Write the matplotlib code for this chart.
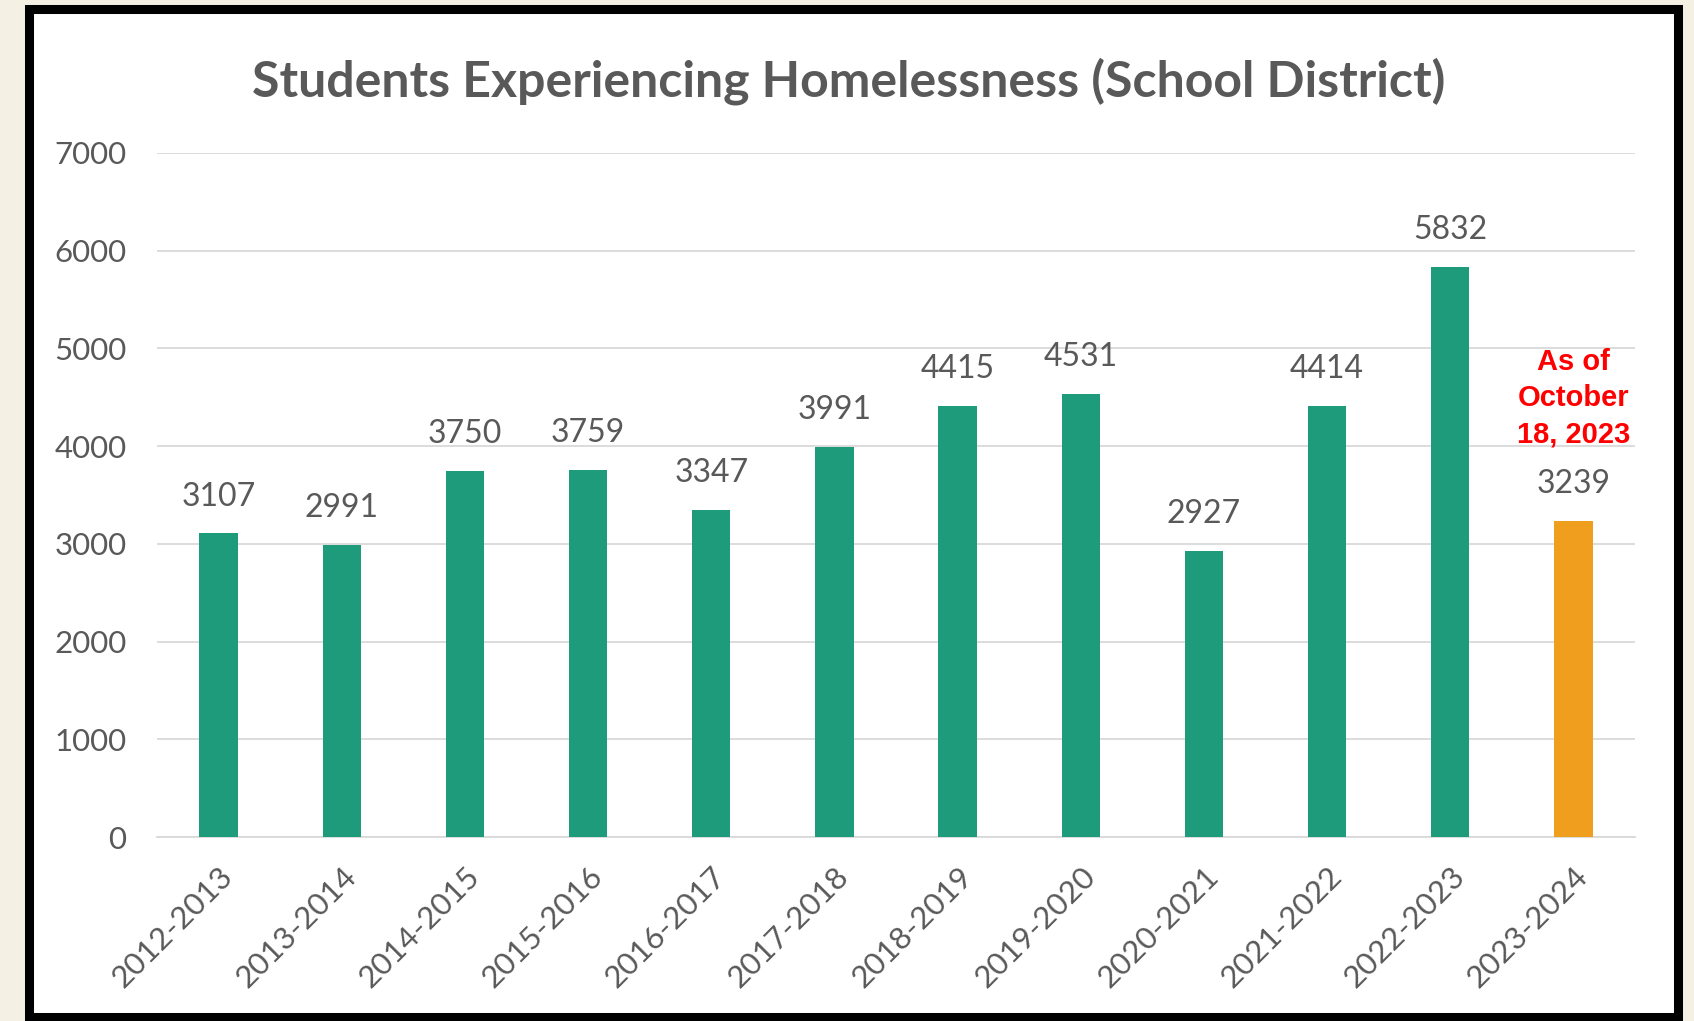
import matplotlib
matplotlib.use("Agg")
import matplotlib.pyplot as plt
from matplotlib.patches import Rectangle

years = ["2012-2013", "2013-2014", "2014-2015", "2015-2016", "2016-2017", "2017-2018",
         "2018-2019", "2019-2020", "2020-2021", "2021-2022", "2022-2023", "2023-2024"]
students = [3107, 2991, 3750, 3759, 3347, 3991, 4415, 4531, 2927, 4414, 5832, 3239]
bar_colors = ["#1E9B7A"] * 11 + ["#F09E1E"]
yticks = [0, 1000, 2000, 3000, 4000, 5000, 6000, 7000]
note = "As of\nOctober\n18, 2023"

W, H = 1694, 1021
fig = plt.figure(figsize=(W / 100, H / 100), dpi=100)
fig.patch.set_facecolor("#F4F0E3")

# white panel with black frame
frame = Rectangle((29 / W, 1 - 1017 / H), (1678 - 29) / W, (1017 - 9) / H,
                  transform=fig.transFigure, facecolor="white", edgecolor="black",
                  linewidth=6.5, zorder=-5)
fig.patches.append(frame)

ax = fig.add_axes([157 / W, 1 - 837 / H, (1635 - 157) / W, (837 - 153) / H])
ax.set_zorder(5)
ax.patch.set_alpha(0)
x = list(range(len(years)))
ax.bar(x, students, width=0.31, color=bar_colors, zorder=3)
ax.set_xlim(-0.5, len(years) - 0.5)
ax.set_ylim(0, 7000)
ax.set_yticks(yticks)
ax.set_yticklabels([str(v) for v in yticks])
ax.grid(axis="y", color="#D9D9D9", linewidth=1.3, zorder=0)
for s in ["top", "right", "left"]:
    ax.spines[s].set_visible(False)
ax.spines["bottom"].set_color("#D9D9D9")
ax.spines["bottom"].set_linewidth(1.3)
ax.tick_params(axis="both", length=0, colors="#595959", labelsize=22.5)
ax.tick_params(axis="y", pad=22)
ax.tick_params(axis="x", pad=18)
ax.set_xticks(x)
ax.set_xticklabels(years, rotation=45, ha="right", rotation_mode="anchor", family="Lato")
for lab in ax.get_yticklabels():
    lab.set_family("Lato")

for xi, v in zip(x, students):
    ax.annotate(str(v), (xi, v), xytext=(0, 26.5), textcoords="offset points",
                ha="center", va="center", fontsize=23, color="#595959", family="Lato")

ax.text(x[-1], 4490, note, ha="center", va="center", color="#FF0000",
        fontsize=21, fontweight="bold", family="Liberation Sans", linespacing=1.37)

fig.text(0.501, 1 - 81 / H, "Students Experiencing Homelessness (School District)",
         ha="center", va="center", fontsize=36, fontweight="bold", color="#595959",
         family="Lato", zorder=6)

fig.savefig("out.png", dpi=100, facecolor=fig.get_facecolor())
